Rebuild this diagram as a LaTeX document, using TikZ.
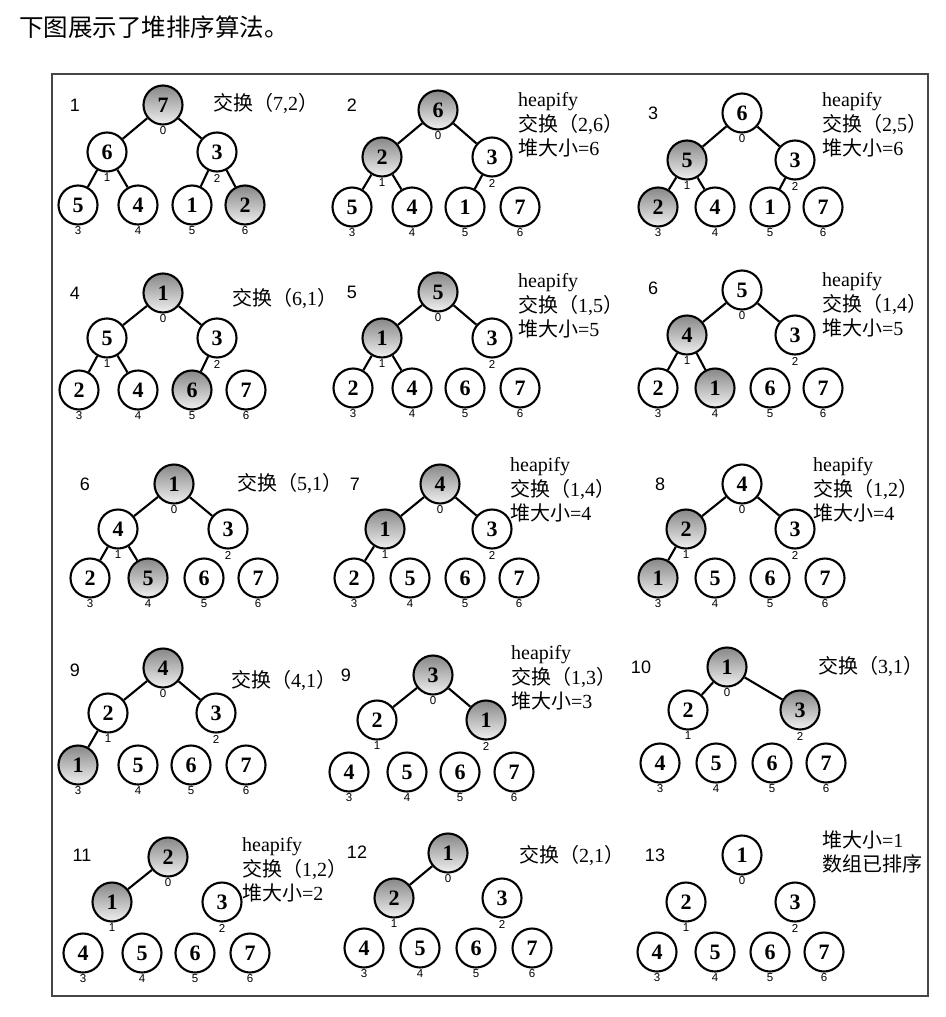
\documentclass[tikz,border=0pt]{standalone}
\usepackage{fontspec}
\setmainfont{Liberation Serif}
\newfontfamily\cjk{Noto Sans CJK SC}
\newfontfamily\arial{Liberation Sans}
\definecolor{shtop}{RGB}{135,135,135}
\definecolor{shbot}{RGB}{240,240,240}
\definecolor{framec}{RGB}{70,70,70}
\newcommand\jiaohuan[1]{{\cjk 交换（}#1{\cjk ）}}
\newcommand\heapsz[1]{{\cjk 堆大小}=#1}
\newcommand\hpn[6]{\node[hnode,#6] (#1) at (#2,#3) {#4}; \node[idx] (#1i) at (#2,#3+26) {#5};}
\tikzset{
  hnode/.style={circle, draw=black, line width=2.1pt, minimum size=39pt, inner sep=0pt, fill=white,
    font=\fontsize{22}{22}\selectfont\bfseries},
  hot/.style={top color=shtop, bottom color=shbot},
  cold/.style={},
  idx/.style={inner sep=0pt, font=\arial\fontsize{11.5}{11.5}\selectfont},
  plab/.style={inner sep=0pt, font=\arial\fontsize{18}{18}\selectfont},
  note/.style={inner sep=0pt, anchor=west, align=left, font=\fontsize{20}{24.5}\selectfont},
  hedge/.style={line width=2.1pt, black},
}
\begin{document}
\begin{tikzpicture}[x=1pt, y=-1pt]
\useasboundingbox (0,0) rectangle (945,1017);
\node[anchor=west, inner sep=0pt, font=\cjk\fontsize{24.5}{24.5}\selectfont] (title) at (19,27) {下图展示了堆排序算法。};
\draw[framec, line width=1.6pt] (52,74) rectangle (928,996);

% ---------- Panel 1
\node[plab] (p1l) at (75,105) {1};
\hpn{p1a}{163}{105}{7}{0}{hot}
\hpn{p1b}{107}{152}{6}{1}{cold}
\hpn{p1c}{217}{152}{3}{2}{cold}
\hpn{p1d}{78}{205}{5}{3}{cold}
\hpn{p1e}{138}{205}{4}{4}{cold}
\hpn{p1f}{192}{205}{1}{5}{cold}
\hpn{p1g}{245}{205}{2}{6}{hot}
\draw[hedge] (p1a)--(p1b) (p1a)--(p1c) (p1b)--(p1d) (p1b)--(p1e) (p1c)--(p1f) (p1c)--(p1g);
\node[note] (p1t) at (213,103) {\jiaohuan{7,2}};

% ---------- Panel 2
\node[plab] (p2l) at (352,105) {2};
\hpn{p2a}{438}{110}{6}{0}{hot}
\hpn{p2b}{382}{157}{2}{1}{hot}
\hpn{p2c}{492}{157}{3}{2}{cold}
\hpn{p2d}{352}{207}{5}{3}{cold}
\hpn{p2e}{412}{207}{4}{4}{cold}
\hpn{p2f}{465}{207}{1}{5}{cold}
\hpn{p2g}{520}{207}{7}{6}{cold}
\draw[hedge] (p2a)--(p2b) (p2a)--(p2c) (p2b)--(p2d) (p2b)--(p2e) (p2c)--(p2f);
\node[note] (p2t) at (518,125) {heapify\\\jiaohuan{2,6}\\\heapsz{6}};

% ---------- Panel 3
\node[plab] (p3l) at (653,113) {3};
\hpn{p3a}{742}{113}{6}{0}{cold}
\hpn{p3b}{687}{160}{5}{1}{hot}
\hpn{p3c}{795}{160}{3}{2}{cold}
\hpn{p3d}{658}{207}{2}{3}{hot}
\hpn{p3e}{715}{207}{4}{4}{cold}
\hpn{p3f}{770}{207}{1}{5}{cold}
\hpn{p3g}{823}{207}{7}{6}{cold}
\draw[hedge] (p3a)--(p3b) (p3a)--(p3c) (p3b)--(p3d) (p3b)--(p3e) (p3c)--(p3f);
\node[note] (p3t) at (822,125) {heapify\\\jiaohuan{2,5}\\\heapsz{6}};

% ---------- Panel 4
\node[plab] (p4l) at (75,293) {4};
\hpn{p4a}{163}{293}{1}{0}{hot}
\hpn{p4b}{107}{338}{5}{1}{cold}
\hpn{p4c}{217}{338}{3}{2}{cold}
\hpn{p4d}{79}{390}{2}{3}{cold}
\hpn{p4e}{138}{390}{4}{4}{cold}
\hpn{p4f}{192}{390}{6}{5}{hot}
\hpn{p4g}{246}{390}{7}{6}{cold}
\draw[hedge] (p4a)--(p4b) (p4a)--(p4c) (p4b)--(p4d) (p4b)--(p4e) (p4c)--(p4f);
\node[note] (p4t) at (232,298) {\jiaohuan{6,1}};

% ---------- Panel 5
\node[plab] (p5l) at (352,292) {5};
\hpn{p5a}{438}{292}{5}{0}{hot}
\hpn{p5b}{382}{338}{1}{1}{hot}
\hpn{p5c}{492}{338}{3}{2}{cold}
\hpn{p5d}{353}{388}{2}{3}{cold}
\hpn{p5e}{412}{388}{4}{4}{cold}
\hpn{p5f}{465}{388}{6}{5}{cold}
\hpn{p5g}{520}{388}{7}{6}{cold}
\draw[hedge] (p5a)--(p5b) (p5a)--(p5c) (p5b)--(p5d) (p5b)--(p5e);
\node[note] (p5t) at (518,306) {heapify\\\jiaohuan{1,5}\\\heapsz{5}};

% ---------- Panel 6
\node[plab] (p6l) at (653,288) {6};
\hpn{p6a}{742}{290}{5}{0}{cold}
\hpn{p6b}{687}{335}{4}{1}{hot}
\hpn{p6c}{795}{335}{3}{2}{cold}
\hpn{p6d}{658}{388}{2}{3}{cold}
\hpn{p6e}{715}{388}{1}{4}{hot}
\hpn{p6f}{770}{388}{6}{5}{cold}
\hpn{p6g}{823}{388}{7}{6}{cold}
\draw[hedge] (p6a)--(p6b) (p6a)--(p6c) (p6b)--(p6d) (p6b)--(p6e);
\node[note] (p6t) at (822,305) {heapify\\\jiaohuan{1,4}\\\heapsz{5}};

% ---------- Panel 7
\node[plab] (p7l) at (85,484) {6};
\hpn{p7a}{174}{484}{1}{0}{hot}
\hpn{p7b}{118}{529}{4}{1}{cold}
\hpn{p7c}{228}{529}{3}{2}{cold}
\hpn{p7d}{90}{578}{2}{3}{cold}
\hpn{p7e}{148}{578}{5}{4}{hot}
\hpn{p7f}{204}{578}{6}{5}{cold}
\hpn{p7g}{258}{578}{7}{6}{cold}
\draw[hedge] (p7a)--(p7b) (p7a)--(p7c) (p7b)--(p7d) (p7b)--(p7e);
\node[note] (p7t) at (237,483) {\jiaohuan{5,1}};

% ---------- Panel 8
\node[plab] (p8l) at (355,484) {7};
\hpn{p8a}{440}{484}{4}{0}{hot}
\hpn{p8b}{385}{529}{1}{1}{hot}
\hpn{p8c}{492}{529}{3}{2}{cold}
\hpn{p8d}{354}{578}{2}{3}{cold}
\hpn{p8e}{410}{578}{5}{4}{cold}
\hpn{p8f}{465}{578}{6}{5}{cold}
\hpn{p8g}{519}{578}{7}{6}{cold}
\draw[hedge] (p8a)--(p8b) (p8a)--(p8c) (p8b)--(p8d);
\node[note] (p8t) at (510,490) {heapify\\\jiaohuan{1,4}\\\heapsz{4}};

% ---------- Panel 9
\node[plab] (p9l) at (660,484) {8};
\hpn{p9a}{742}{484}{4}{0}{cold}
\hpn{p9b}{686}{529}{2}{1}{hot}
\hpn{p9c}{795}{529}{3}{2}{cold}
\hpn{p9d}{658}{578}{1}{3}{hot}
\hpn{p9e}{715}{578}{5}{4}{cold}
\hpn{p9f}{770}{578}{6}{5}{cold}
\hpn{p9g}{825}{578}{7}{6}{cold}
\draw[hedge] (p9a)--(p9b) (p9a)--(p9c) (p9b)--(p9d);
\node[note] (p9t) at (813,490) {heapify\\\jiaohuan{1,2}\\\heapsz{4}};

% ---------- Panel 10
\node[plab] (p10l) at (75,670) {9};
\hpn{p10a}{163}{668}{4}{0}{hot}
\hpn{p10b}{108}{713}{2}{1}{cold}
\hpn{p10c}{216}{713}{3}{2}{cold}
\hpn{p10d}{78}{765}{1}{3}{hot}
\hpn{p10e}{138}{765}{5}{4}{cold}
\hpn{p10f}{191}{765}{6}{5}{cold}
\hpn{p10g}{246}{765}{7}{6}{cold}
\draw[hedge] (p10a)--(p10b) (p10a)--(p10c) (p10b)--(p10d);
\node[note] (p10t) at (231,680) {\jiaohuan{4,1}};

% ---------- Panel 11
\node[plab] (p11l) at (346,675) {9};
\hpn{p11a}{433}{675}{3}{0}{hot}
\hpn{p11b}{377}{720}{2}{1}{cold}
\hpn{p11c}{486}{720}{1}{2}{hot}
\hpn{p11d}{349}{772}{4}{3}{cold}
\hpn{p11e}{407}{772}{5}{4}{cold}
\hpn{p11f}{460}{772}{6}{5}{cold}
\hpn{p11g}{514}{772}{7}{6}{cold}
\draw[hedge] (p11a)--(p11b) (p11a)--(p11c);
\node[note] (p11t) at (511,678) {heapify\\\jiaohuan{1,3}\\\heapsz{3}};

% ---------- Panel 12
\node[plab] (p12l) at (641,667) {10};
\hpn{p12a}{727}{667}{1}{0}{hot}
\hpn{p12b}{688}{710}{2}{1}{cold}
\hpn{p12c}{800}{710}{3}{2}{hot}
\hpn{p12d}{660}{763}{4}{3}{cold}
\hpn{p12e}{716}{763}{5}{4}{cold}
\hpn{p12f}{772}{763}{6}{5}{cold}
\hpn{p12g}{826}{763}{7}{6}{cold}
\draw[hedge] (p12a)--(p12b) (p12a)--(p12c);
\node[note] (p12t) at (818,666) {\jiaohuan{3,1}};

% ---------- Panel 13
\node[plab] (p13l) at (82,855) {11};
\hpn{p13a}{168}{857}{2}{0}{hot}
\hpn{p13b}{112}{902}{1}{1}{hot}
\hpn{p13c}{222}{902}{3}{2}{cold}
\hpn{p13d}{83}{953}{4}{3}{cold}
\hpn{p13e}{142}{953}{5}{4}{cold}
\hpn{p13f}{195}{953}{6}{5}{cold}
\hpn{p13g}{250}{953}{7}{6}{cold}
\draw[hedge] (p13a)--(p13b);
\node[note] (p13t) at (242,870) {heapify\\\jiaohuan{1,2}\\\heapsz{2}};

% ---------- Panel 14
\node[plab] (p14l) at (357,852) {12};
\hpn{p14a}{448}{853}{1}{0}{hot}
\hpn{p14b}{394}{898}{2}{1}{hot}
\hpn{p14c}{502}{898}{3}{2}{cold}
\hpn{p14d}{364}{948}{4}{3}{cold}
\hpn{p14e}{420}{948}{5}{4}{cold}
\hpn{p14f}{476}{948}{6}{5}{cold}
\hpn{p14g}{532}{948}{7}{6}{cold}
\draw[hedge] (p14a)--(p14b);
\node[note] (p14t) at (519,855) {\jiaohuan{2,1}};

% ---------- Panel 15
\node[plab] (p15l) at (655,855) {13};
\hpn{p15a}{742}{855}{1}{0}{cold}
\hpn{p15b}{686}{902}{2}{1}{cold}
\hpn{p15c}{795}{902}{3}{2}{cold}
\hpn{p15d}{657}{952}{4}{3}{cold}
\hpn{p15e}{715}{952}{5}{4}{cold}
\hpn{p15f}{770}{952}{6}{5}{cold}
\hpn{p15g}{824}{952}{7}{6}{cold}
\node[note] (p15t) at (822,852) {\heapsz{1}\\{\cjk 数组已排序}};
\end{tikzpicture}
\end{document}
